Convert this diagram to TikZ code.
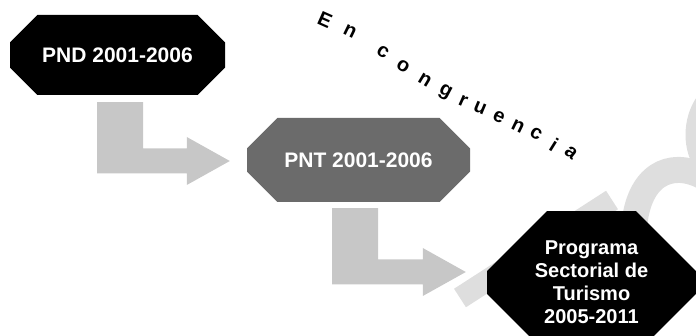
\documentclass[tikz,border=0pt]{standalone}
\usepackage{fontspec}
\setmainfont{Liberation Sans}
\usetikzlibrary{shapes.misc,calc}
\tikzset{
  plan/.style={chamfered rectangle, chamfered rectangle xsep=22pt,
    chamfered rectangle ysep=20pt, inner sep=0pt, text=white,
    font=\fontsize{21}{23}\selectfont\bfseries, align=center},
  flow/.style={fill=black!22},
  wm/.style={draw=black!13, line cap=butt}
}
\newcommand{\bendarrow}[2]{%
  \fill[flow] let \p1=(#1), \p2=(#2) in
    (\x1-23pt,\y1) -- (\x1+23pt,\y1) -- (\x1+23pt,\y2+12.5pt)
    -- (\x2-43pt,\y2+12.5pt) -- (\x2-43pt,\y2+24pt) -- (\x2,\y2)
    -- (\x2-43pt,\y2-24pt) -- (\x2-43pt,\y2-12.5pt) -- (\x1-23pt,\y2-12.5pt) -- cycle;}

\begin{document}
\begin{tikzpicture}[x=1pt,y=1pt]
  \useasboundingbox (0,0) rectangle (696,-336);
  \clip (0,0) rectangle (696,-336);
  % watermark
  \draw[wm, line width=22] (460,-298) -- (612,-200);
  \draw[wm, line width=26] (634,-228) .. controls (638,-175) and (670,-160) .. (702,-176);
  \draw[wm, line width=12] (702,-100) .. controls (688,-120) and (688,-150) .. (702,-168);
  % boxes
  \node[plan, fill=black, minimum width=215, minimum height=80] (pnd) at (117.5,-55) {PND 2001-2006};
  \node[plan, fill=black!58, minimum width=223, minimum height=84,
        chamfered rectangle xsep=25pt, chamfered rectangle ysep=23pt] (pnt) at (358.5,-160) {PNT 2001-2006};
  \node[plan, fill=black, minimum width=209, minimum height=109,
        chamfered rectangle xsep=30pt, chamfered rectangle ysep=30pt,
        font=\fontsize{20}{23}\selectfont\bfseries] (pst) at (591.5,-282.5)
        {Programa\\Sectorial de\\Turismo\\2005-2011};
  % arrows
  \coordinate (s1) at ($(pnd.south)+(2.5,-7)$);
  \coordinate (t1) at ($(pnt.west)+(-17,-1)$);
  \coordinate (s2) at ($(pnt.south)+(-3.5,-6)$);
  \coordinate (t2) at ($(pst.west)+(-21,10.5)$);
  \bendarrow{s1}{t1}
  \bendarrow{s2}{t2}
  % curved caption
  \foreach \ch/\px/\py/\ang [count=\i] in {E/325/20/-24, n/350/31/-26, c/383/52/-32, o/403/66/-32,
      n/425/80/-31, g/445/92/-28, r/463/101/-24, u/480/108/-23, e/499/117/-25,
      n/518/126/-26, c/536/134/-30, i/554/145/-32, a/571/153/-38}
    \node[font=\fontsize{20}{20}\selectfont\bfseries, rotate=\ang, inner sep=0pt] (ec\i) at (\px,-\py) {\ch};
\end{tikzpicture}
\end{document}
